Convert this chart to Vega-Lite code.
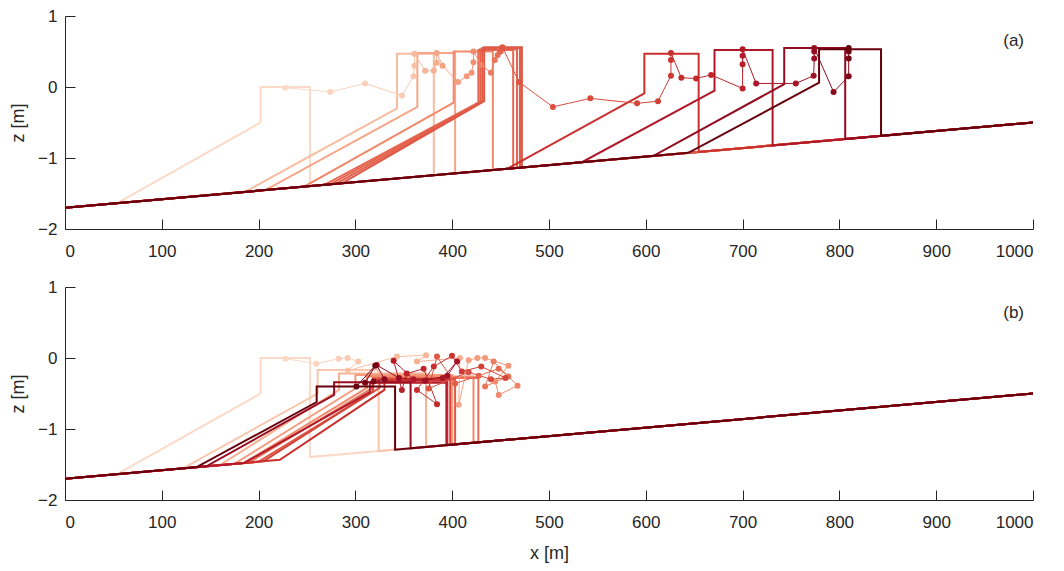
{
  "$schema": "https://vega.github.io/schema/vega-lite/v6.json",
  "padding": {"left": 9, "top": 7, "right": 5, "bottom": 5},
  "spacing": 19,
  "datasets": {
    "profiles": [
      {"p":"a","t":0,"i":0,"x":0,"z":-1.7},{"p":"a","t":0,"i":1,"x":54,"z":-1.635},{"p":"a","t":0,"i":2,"x":202,"z":-0.5},{"p":"a","t":0,"i":3,"x":202,"z":0.0},{"p":"a","t":0,"i":4,"x":253,"z":0.0},{"p":"a","t":0,"i":5,"x":253,"z":-1.396},{"p":"a","t":0,"i":6,"x":1000,"z":-0.5},
      {"p":"a","t":6,"i":0,"x":0,"z":-1.7},{"p":"a","t":6,"i":1,"x":186,"z":-1.477},{"p":"a","t":6,"i":2,"x":343,"z":-0.3},{"p":"a","t":6,"i":3,"x":343,"z":0.47},{"p":"a","t":6,"i":4,"x":381,"z":0.47},{"p":"a","t":6,"i":5,"x":381,"z":-1.243},{"p":"a","t":6,"i":6,"x":1000,"z":-0.5},
      {"p":"a","t":10,"i":0,"x":0,"z":-1.7},{"p":"a","t":10,"i":1,"x":207,"z":-1.452},{"p":"a","t":10,"i":2,"x":364,"z":-0.28},{"p":"a","t":10,"i":3,"x":364,"z":0.48},{"p":"a","t":10,"i":4,"x":403,"z":0.48},{"p":"a","t":10,"i":5,"x":403,"z":-1.216},{"p":"a","t":10,"i":6,"x":1000,"z":-0.5},
      {"p":"a","t":16,"i":0,"x":0,"z":-1.7},{"p":"a","t":16,"i":1,"x":247,"z":-1.404},{"p":"a","t":16,"i":2,"x":401.5,"z":-0.22},{"p":"a","t":16,"i":3,"x":401.5,"z":0.5},{"p":"a","t":16,"i":4,"x":442,"z":0.5},{"p":"a","t":16,"i":5,"x":442,"z":-1.17},{"p":"a","t":16,"i":6,"x":1000,"z":-0.5},
      {"p":"a","t":21,"i":0,"x":0,"z":-1.7},{"p":"a","t":21,"i":1,"x":268,"z":-1.378},{"p":"a","t":21,"i":2,"x":427,"z":-0.22},{"p":"a","t":21,"i":3,"x":427,"z":0.52},{"p":"a","t":21,"i":4,"x":463,"z":0.52},{"p":"a","t":21,"i":5,"x":463,"z":-1.144},{"p":"a","t":21,"i":6,"x":1000,"z":-0.5},
      {"p":"a","t":22,"i":0,"x":0,"z":-1.7},{"p":"a","t":22,"i":1,"x":274,"z":-1.371},{"p":"a","t":22,"i":2,"x":429,"z":-0.21},{"p":"a","t":22,"i":3,"x":429,"z":0.53},{"p":"a","t":22,"i":4,"x":467,"z":0.53},{"p":"a","t":22,"i":5,"x":467,"z":-1.14},{"p":"a","t":22,"i":6,"x":1000,"z":-0.5},
      {"p":"a","t":23,"i":0,"x":0,"z":-1.7},{"p":"a","t":23,"i":1,"x":280,"z":-1.364},{"p":"a","t":23,"i":2,"x":431,"z":-0.21},{"p":"a","t":23,"i":3,"x":431,"z":0.55},{"p":"a","t":23,"i":4,"x":470,"z":0.55},{"p":"a","t":23,"i":5,"x":470,"z":-1.136},{"p":"a","t":23,"i":6,"x":1000,"z":-0.5},
      {"p":"a","t":24,"i":0,"x":0,"z":-1.7},{"p":"a","t":24,"i":1,"x":286,"z":-1.357},{"p":"a","t":24,"i":2,"x":433,"z":-0.2},{"p":"a","t":24,"i":3,"x":433,"z":0.56},{"p":"a","t":24,"i":4,"x":472,"z":0.56},{"p":"a","t":24,"i":5,"x":472,"z":-1.134},{"p":"a","t":24,"i":6,"x":1000,"z":-0.5},
      {"p":"a","t":32,"i":0,"x":0,"z":-1.7},{"p":"a","t":32,"i":1,"x":457,"z":-1.152},{"p":"a","t":32,"i":2,"x":598.5,"z":-0.09},{"p":"a","t":32,"i":3,"x":598.5,"z":0.47},{"p":"a","t":32,"i":4,"x":654.6,"z":0.47},{"p":"a","t":32,"i":5,"x":654.6,"z":-0.915},{"p":"a","t":32,"i":6,"x":1000,"z":-0.5},
      {"p":"a","t":39,"i":0,"x":0,"z":-1.7},{"p":"a","t":39,"i":1,"x":534,"z":-1.059},{"p":"a","t":39,"i":2,"x":671,"z":-0.05},{"p":"a","t":39,"i":3,"x":671,"z":0.52},{"p":"a","t":39,"i":4,"x":731,"z":0.52},{"p":"a","t":39,"i":5,"x":731,"z":-0.823},{"p":"a","t":39,"i":6,"x":1000,"z":-0.5},
      {"p":"a","t":45,"i":0,"x":0,"z":-1.7},{"p":"a","t":45,"i":1,"x":608,"z":-0.97},{"p":"a","t":45,"i":2,"x":743,"z":0.04},{"p":"a","t":45,"i":3,"x":743,"z":0.55},{"p":"a","t":45,"i":4,"x":806,"z":0.55},{"p":"a","t":45,"i":5,"x":806,"z":-0.733},{"p":"a","t":45,"i":6,"x":1000,"z":-0.5},
      {"p":"a","t":50,"i":0,"x":0,"z":-1.7},{"p":"a","t":50,"i":1,"x":644,"z":-0.927},{"p":"a","t":50,"i":2,"x":779,"z":0.06},{"p":"a","t":50,"i":3,"x":779,"z":0.53},{"p":"a","t":50,"i":4,"x":843,"z":0.53},{"p":"a","t":50,"i":5,"x":843,"z":-0.688},{"p":"a","t":50,"i":6,"x":1000,"z":-0.5},

      {"p":"b","t":0,"i":0,"x":0,"z":-1.7},{"p":"b","t":0,"i":1,"x":54,"z":-1.635},{"p":"b","t":0,"i":2,"x":202,"z":-0.5},{"p":"b","t":0,"i":3,"x":202,"z":0.0},{"p":"b","t":0,"i":4,"x":253,"z":0.0},{"p":"b","t":0,"i":5,"x":253,"z":-1.396},{"p":"b","t":0,"i":6,"x":1000,"z":-0.5},
      {"p":"b","t":4,"i":0,"x":0,"z":-1.7},{"p":"b","t":4,"i":1,"x":122,"z":-1.554},{"p":"b","t":4,"i":2,"x":261,"z":-0.5},{"p":"b","t":4,"i":3,"x":261,"z":-0.17},{"p":"b","t":4,"i":4,"x":324,"z":-0.17},{"p":"b","t":4,"i":5,"x":324,"z":-1.311},{"p":"b","t":4,"i":6,"x":1000,"z":-0.5},
      {"p":"b","t":8,"i":0,"x":0,"z":-1.7},{"p":"b","t":8,"i":1,"x":160,"z":-1.508},{"p":"b","t":8,"i":2,"x":283,"z":-0.45},{"p":"b","t":8,"i":3,"x":283,"z":-0.22},{"p":"b","t":8,"i":4,"x":373,"z":-0.22},{"p":"b","t":8,"i":5,"x":373,"z":-1.252},{"p":"b","t":8,"i":6,"x":1000,"z":-0.5},
      {"p":"b","t":12,"i":0,"x":0,"z":-1.7},{"p":"b","t":12,"i":1,"x":175,"z":-1.49},{"p":"b","t":12,"i":2,"x":300,"z":-0.43},{"p":"b","t":12,"i":3,"x":300,"z":-0.24},{"p":"b","t":12,"i":4,"x":400,"z":-0.24},{"p":"b","t":12,"i":5,"x":400,"z":-1.22},{"p":"b","t":12,"i":6,"x":1000,"z":-0.5},
      {"p":"b","t":16,"i":0,"x":0,"z":-1.7},{"p":"b","t":16,"i":1,"x":185,"z":-1.478},{"p":"b","t":16,"i":2,"x":312,"z":-0.42},{"p":"b","t":16,"i":3,"x":312,"z":-0.26},{"p":"b","t":16,"i":4,"x":422,"z":-0.26},{"p":"b","t":16,"i":5,"x":422,"z":-1.194},{"p":"b","t":16,"i":6,"x":1000,"z":-0.5},
      {"p":"b","t":20,"i":0,"x":0,"z":-1.7},{"p":"b","t":20,"i":1,"x":190,"z":-1.472},{"p":"b","t":20,"i":2,"x":318,"z":-0.42},{"p":"b","t":20,"i":3,"x":318,"z":-0.28},{"p":"b","t":20,"i":4,"x":427,"z":-0.28},{"p":"b","t":20,"i":5,"x":427,"z":-1.188},{"p":"b","t":20,"i":6,"x":1000,"z":-0.5},
      {"p":"b","t":24,"i":0,"x":0,"z":-1.7},{"p":"b","t":24,"i":1,"x":200,"z":-1.46},{"p":"b","t":24,"i":2,"x":325,"z":-0.42},{"p":"b","t":24,"i":3,"x":325,"z":-0.3},{"p":"b","t":24,"i":4,"x":403,"z":-0.3},{"p":"b","t":24,"i":5,"x":403,"z":-1.216},{"p":"b","t":24,"i":6,"x":1000,"z":-0.5},
      {"p":"b","t":28,"i":0,"x":0,"z":-1.7},{"p":"b","t":28,"i":1,"x":205,"z":-1.454},{"p":"b","t":28,"i":2,"x":318,"z":-0.47},{"p":"b","t":28,"i":3,"x":318,"z":-0.3},{"p":"b","t":28,"i":4,"x":398,"z":-0.3},{"p":"b","t":28,"i":5,"x":398,"z":-1.222},{"p":"b","t":28,"i":6,"x":1000,"z":-0.5},
      {"p":"b","t":32,"i":0,"x":0,"z":-1.7},{"p":"b","t":32,"i":1,"x":222,"z":-1.434},{"p":"b","t":32,"i":2,"x":330,"z":-0.45},{"p":"b","t":32,"i":3,"x":330,"z":-0.32},{"p":"b","t":32,"i":4,"x":395,"z":-0.32},{"p":"b","t":32,"i":5,"x":395,"z":-1.226},{"p":"b","t":32,"i":6,"x":1000,"z":-0.5},
      {"p":"b","t":38,"i":0,"x":0,"z":-1.7},{"p":"b","t":38,"i":1,"x":185,"z":-1.478},{"p":"b","t":38,"i":2,"x":315,"z":-0.48},{"p":"b","t":38,"i":3,"x":315,"z":-0.35},{"p":"b","t":38,"i":4,"x":394,"z":-0.35},{"p":"b","t":38,"i":5,"x":394,"z":-1.227},{"p":"b","t":38,"i":6,"x":1000,"z":-0.5},
      {"p":"b","t":44,"i":0,"x":0,"z":-1.7},{"p":"b","t":44,"i":1,"x":146,"z":-1.525},{"p":"b","t":44,"i":2,"x":278,"z":-0.52},{"p":"b","t":44,"i":3,"x":278,"z":-0.34},{"p":"b","t":44,"i":4,"x":357,"z":-0.34},{"p":"b","t":44,"i":5,"x":357,"z":-1.272},{"p":"b","t":44,"i":6,"x":1000,"z":-0.5},
      {"p":"b","t":50,"i":0,"x":0,"z":-1.7},{"p":"b","t":50,"i":1,"x":136,"z":-1.537},{"p":"b","t":50,"i":2,"x":260,"z":-0.62},{"p":"b","t":50,"i":3,"x":260,"z":-0.4},{"p":"b","t":50,"i":4,"x":341,"z":-0.4},{"p":"b","t":50,"i":5,"x":341,"z":-1.291},{"p":"b","t":50,"i":6,"x":1000,"z":-0.5}
    ],
    "track": [
      {"p":"a","t":0,"x":227.6,"z":-0.01},{"p":"a","t":1,"x":274,"z":-0.07},{"p":"a","t":2,"x":310,"z":0.05},{"p":"a","t":3,"x":348,"z":-0.12},{"p":"a","t":4,"x":360,"z":0.15},{"p":"a","t":5,"x":361,"z":0.3},{"p":"a","t":6,"x":361,"z":0.47},{"p":"a","t":7,"x":372,"z":0.23},{"p":"a","t":8,"x":381,"z":0.23},{"p":"a","t":9,"x":384,"z":0.34},
      {"p":"a","t":10,"x":384,"z":0.48},{"p":"a","t":11,"x":390,"z":0.3},{"p":"a","t":12,"x":406,"z":0.07},{"p":"a","t":13,"x":415,"z":0.15},{"p":"a","t":14,"x":420,"z":0.2},{"p":"a","t":15,"x":422,"z":0.35},{"p":"a","t":16,"x":422,"z":0.5},{"p":"a","t":17,"x":430,"z":0.31},{"p":"a","t":18,"x":440,"z":0.2},{"p":"a","t":19,"x":444,"z":0.38},
      {"p":"a","t":20,"x":447,"z":0.45},{"p":"a","t":21,"x":449,"z":0.52},{"p":"a","t":22,"x":450,"z":0.5},{"p":"a","t":23,"x":451,"z":0.55},{"p":"a","t":24,"x":452,"z":0.56},{"p":"a","t":25,"x":469,"z":0.07},{"p":"a","t":26,"x":504,"z":-0.28},{"p":"a","t":27,"x":542.7,"z":-0.16},{"p":"a","t":28,"x":591,"z":-0.23},{"p":"a","t":29,"x":612.6,"z":-0.2},
      {"p":"a","t":30,"x":626,"z":0.16},{"p":"a","t":31,"x":626,"z":0.38},{"p":"a","t":32,"x":626,"z":0.48},{"p":"a","t":33,"x":636.7,"z":0.13},{"p":"a","t":34,"x":652,"z":0.12},{"p":"a","t":35,"x":667.5,"z":0.17},{"p":"a","t":36,"x":700,"z":-0.02},{"p":"a","t":37,"x":700,"z":0.32},{"p":"a","t":38,"x":700,"z":0.44},{"p":"a","t":39,"x":700,"z":0.53},
      {"p":"a","t":40,"x":714,"z":0.05},{"p":"a","t":41,"x":755,"z":0.05},{"p":"a","t":42,"x":773.4,"z":0.16},{"p":"a","t":43,"x":774,"z":0.4},{"p":"a","t":44,"x":774,"z":0.5},{"p":"a","t":45,"x":774,"z":0.55},{"p":"a","t":46,"x":794,"z":-0.07},{"p":"a","t":47,"x":809.6,"z":0.15},{"p":"a","t":48,"x":809.6,"z":0.4},{"p":"a","t":49,"x":809.6,"z":0.5},
      {"p":"a","t":50,"x":809.6,"z":0.55},

      {"p":"b","t":0,"x":227.6,"z":-0.01},{"p":"b","t":1,"x":259.6,"z":-0.08},{"p":"b","t":2,"x":282.7,"z":-0.01},{"p":"b","t":3,"x":292,"z":0.0},{"p":"b","t":4,"x":303,"z":-0.05},{"p":"b","t":5,"x":292,"z":-0.18},{"p":"b","t":6,"x":343,"z":0.02},{"p":"b","t":7,"x":373,"z":0.04},{"p":"b","t":8,"x":363.6,"z":-0.05},{"p":"b","t":9,"x":408,"z":0.0},
      {"p":"b","t":10,"x":406.7,"z":-0.66},{"p":"b","t":11,"x":417,"z":-0.03},{"p":"b","t":12,"x":426,"z":0.0},{"p":"b","t":13,"x":434,"z":0.0},{"p":"b","t":14,"x":458,"z":-0.11},{"p":"b","t":15,"x":444.4,"z":-0.33},{"p":"b","t":16,"x":448,"z":-0.52},{"p":"b","t":17,"x":467.5,"z":-0.39},{"p":"b","t":18,"x":442.8,"z":-0.05},{"p":"b","t":19,"x":434,"z":-0.4},
      {"p":"b","t":20,"x":458,"z":-0.26},{"p":"b","t":21,"x":448,"z":-0.15},{"p":"b","t":22,"x":427.3,"z":-0.25},{"p":"b","t":23,"x":403,"z":-0.36},{"p":"b","t":24,"x":384.3,"z":0.02},{"p":"b","t":25,"x":375.6,"z":-0.43},{"p":"b","t":26,"x":417,"z":-0.2},{"p":"b","t":27,"x":440,"z":-0.3},{"p":"b","t":28,"x":455,"z":-0.28},{"p":"b","t":29,"x":430,"z":-0.12},
      {"p":"b","t":30,"x":410,"z":-0.19},{"p":"b","t":31,"x":399.8,"z":0.03},{"p":"b","t":32,"x":381,"z":-0.12},{"p":"b","t":33,"x":363.6,"z":-0.45},{"p":"b","t":34,"x":384.3,"z":-0.65},{"p":"b","t":35,"x":370.5,"z":-0.15},{"p":"b","t":36,"x":353,"z":-0.22},{"p":"b","t":37,"x":348,"z":-0.45},{"p":"b","t":38,"x":339.5,"z":-0.04},{"p":"b","t":39,"x":360,"z":-0.3},
      {"p":"b","t":40,"x":390,"z":-0.28},{"p":"b","t":41,"x":405,"z":-0.05},{"p":"b","t":42,"x":395,"z":-0.25},{"p":"b","t":43,"x":372,"z":-0.32},{"p":"b","t":44,"x":345,"z":-0.28},{"p":"b","t":45,"x":322,"z":-0.1},{"p":"b","t":46,"x":330,"z":-0.3},{"p":"b","t":47,"x":318.8,"z":-0.33},{"p":"b","t":48,"x":310,"z":-0.35},{"p":"b","t":49,"x":320.5,"z":-0.11},
      {"p":"b","t":50,"x":301,"z":-0.4}
    ]
  },
  "vconcat": [
    {
      "width": 968,
      "height": 213,
      "layer": [
        {
          "data": {"name": "profiles"},
          "transform": [{"filter": "datum.p == 'a'"}],
          "mark": {"type": "line", "strokeWidth": 2},
          "encoding": {
            "x": {"field": "x", "type": "quantitative", "scale": {"domain": [0, 1000], "nice": false},
                  "axis": {"values": [0, 100, 200, 300, 400, 500, 600, 700, 800, 900, 1000], "format": "d", "title": null}},
            "y": {"field": "z", "type": "quantitative", "scale": {"domain": [-2, 1], "nice": false},
                  "axis": {"values": [-2, -1, 0, 1], "format": "d", "title": "z [m]"}},
            "color": {"field": "t", "type": "quantitative", "legend": null,
                      "scale": {"domain": [0, 6, 10, 16, 22, 32, 39, 45, 50],
                                "range": ["#fcd9c6", "#f8bc9f", "#f6a687", "#f08a6c", "#e4614c", "#c9302e", "#b01729", "#930b21", "#67000d"]}},
            "detail": {"field": "t"},
            "order": {"field": "i", "type": "quantitative"}
          }
        },
        {
          "data": {"name": "track"},
          "transform": [
            {"filter": "datum.p == 'a'"},
            {"window": [{"op": "lead", "field": "x", "as": "x2"}, {"op": "lead", "field": "z", "as": "z2"}], "sort": [{"field": "t", "order": "ascending"}]},
            {"filter": "datum.x2 != null"}
          ],
          "mark": {"type": "rule", "strokeWidth": 1},
          "encoding": {
            "x": {"field": "x", "type": "quantitative"},
            "y": {"field": "z", "type": "quantitative"},
            "x2": {"field": "x2"},
            "y2": {"field": "z2"},
            "color": {"field": "t", "type": "quantitative"}
          }
        },
        {
          "data": {"name": "track"},
          "transform": [{"filter": "datum.p == 'a'"}],
          "mark": {"type": "circle", "size": 36, "opacity": 1},
          "encoding": {
            "x": {"field": "x", "type": "quantitative"},
            "y": {"field": "z", "type": "quantitative"},
            "color": {"field": "t", "type": "quantitative"}
          }
        },
        {
          "data": {"values": [{}]},
          "mark": {"type": "text", "fontSize": 17, "font": "Liberation Sans", "color": "#262626"},
          "encoding": {"x": {"datum": 980}, "y": {"datum": 0.65}, "text": {"value": "(a)"}}
        }
      ]
    },
    {
      "width": 968,
      "height": 213,
      "layer": [
        {
          "data": {"name": "profiles"},
          "transform": [{"filter": "datum.p == 'b'"}],
          "mark": {"type": "line", "strokeWidth": 2},
          "encoding": {
            "x": {"field": "x", "type": "quantitative", "scale": {"domain": [0, 1000], "nice": false},
                  "axis": {"values": [0, 100, 200, 300, 400, 500, 600, 700, 800, 900, 1000], "format": "d", "title": "x [m]", "titlePadding": 14}},
            "y": {"field": "z", "type": "quantitative", "scale": {"domain": [-2, 1], "nice": false},
                  "axis": {"values": [-2, -1, 0, 1], "format": "d", "title": "z [m]"}},
            "color": {"field": "t", "type": "quantitative", "legend": null,
                      "scale": {"domain": [0, 6, 10, 16, 22, 32, 39, 45, 50],
                                "range": ["#fcd9c6", "#f8bc9f", "#f6a687", "#f08a6c", "#e4614c", "#c9302e", "#b01729", "#930b21", "#67000d"]}},
            "detail": {"field": "t"},
            "order": {"field": "i", "type": "quantitative"}
          }
        },
        {
          "data": {"name": "track"},
          "transform": [
            {"filter": "datum.p == 'b'"},
            {"window": [{"op": "lead", "field": "x", "as": "x2"}, {"op": "lead", "field": "z", "as": "z2"}], "sort": [{"field": "t", "order": "ascending"}]},
            {"filter": "datum.x2 != null"}
          ],
          "mark": {"type": "rule", "strokeWidth": 1},
          "encoding": {
            "x": {"field": "x", "type": "quantitative"},
            "y": {"field": "z", "type": "quantitative"},
            "x2": {"field": "x2"},
            "y2": {"field": "z2"},
            "color": {"field": "t", "type": "quantitative"}
          }
        },
        {
          "data": {"name": "track"},
          "transform": [{"filter": "datum.p == 'b'"}],
          "mark": {"type": "circle", "size": 36, "opacity": 1},
          "encoding": {
            "x": {"field": "x", "type": "quantitative"},
            "y": {"field": "z", "type": "quantitative"},
            "color": {"field": "t", "type": "quantitative"}
          }
        },
        {
          "data": {"values": [{}]},
          "mark": {"type": "text", "fontSize": 17, "font": "Liberation Sans", "color": "#262626"},
          "encoding": {"x": {"datum": 980}, "y": {"datum": 0.63}, "text": {"value": "(b)"}}
        }
      ]
    }
  ],
  "config": {
    "view": {"stroke": null},
    "axis": {
      "grid": false,
      "domainColor": "#262626",
      "tickColor": "#262626",
      "labelColor": "#262626",
      "titleColor": "#262626",
      "labelFont": "Liberation Sans",
      "titleFont": "Liberation Sans",
      "labelFontSize": 17,
      "titleFontSize": 18,
      "titleFontWeight": "normal",
      "tickSize": -10,
      "labelPadding": 18
    },
    "axisY": {"titlePadding": 10},
    "axisX": {"labelPadding": 24}
  }
}
